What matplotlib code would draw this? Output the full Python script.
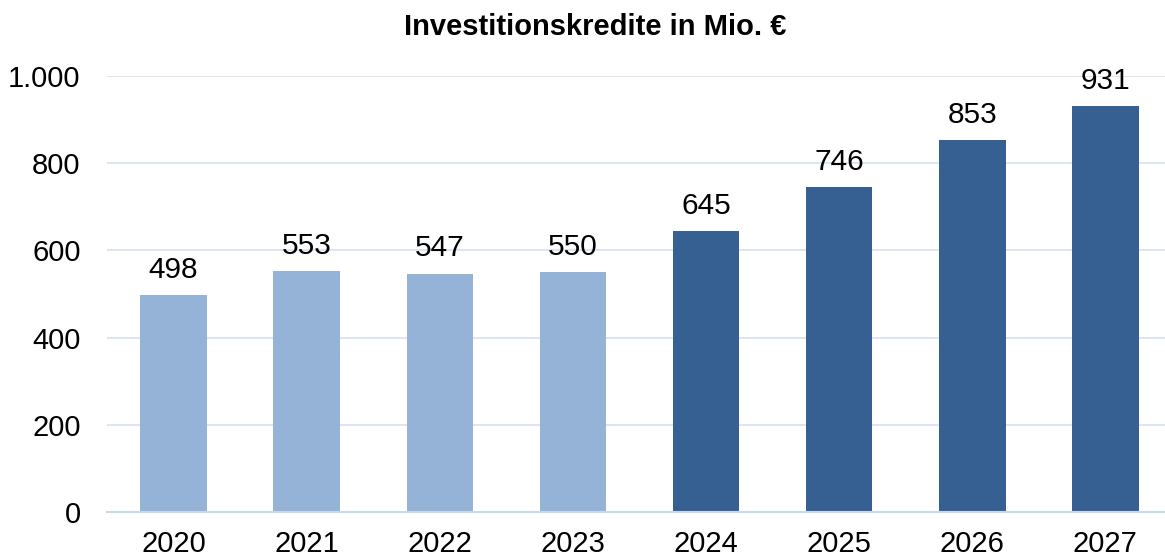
import matplotlib.pyplot as plt
from matplotlib.ticker import FuncFormatter

plt.rcParams['font.family'] = ['Liberation Sans', 'DejaVu Sans']

years = ['2020', '2021', '2022', '2023', '2024', '2025', '2026', '2027']
values = [498, 553, 547, 550, 645, 746, 853, 931]
colors = ['#95B3D7'] * 4 + ['#376092'] * 4

fig = plt.figure(figsize=(11.65, 5.57), dpi=100)
ax = fig.add_axes([107 / 1165, 45 / 557, 1065 / 1165, 436 / 557])

x = range(len(years))
bars = ax.bar(x, values, width=0.5, color=colors, zorder=2)

for xi, v in zip(x, values):
    ax.annotate(str(v), (xi, v), xytext=(0, 8), textcoords='offset points',
                ha='center', va='bottom', fontsize=21.5)

ax.set_xlim(-0.5, 7.5)
ax.set_ylim(0, 1000)
ax.set_yticks(range(0, 1001, 200))
ax.yaxis.set_major_formatter(FuncFormatter(lambda v, p: f'{int(v):,}'.replace(',', '.')))
ax.set_xticks(list(x))
ax.set_xticklabels(years)
ax.tick_params(axis='both', length=0, labelsize=21)
ax.tick_params(axis='y', pad=19)
ax.tick_params(axis='x', pad=13)

ax.grid(axis='y', color='#D9E4F1', linewidth=1.3, zorder=0)
for s in ['top', 'right', 'left']:
    ax.spines[s].set_visible(False)
ax.spines['bottom'].set_color('#C6D9F1')
ax.spines['bottom'].set_linewidth(1.5)

fig.text(595 / 1165, 1 - 27 / 557, 'Investitionskredite in Mio. €',
         ha='center', va='center', fontsize=21, fontweight='bold')

fig.savefig('out.png', dpi=100)
